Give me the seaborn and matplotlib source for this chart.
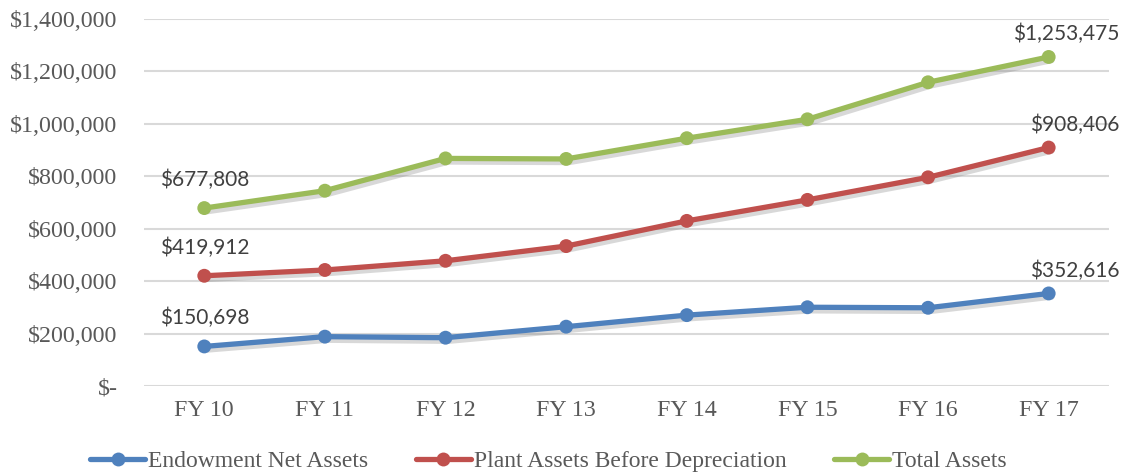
import matplotlib
matplotlib.use("Agg")
import matplotlib.pyplot as plt
import matplotlib.patheffects as pe
from matplotlib.lines import Line2D
import seaborn as sns
import pandas as pd

# Fiscal years and asset values (in thousands of dollars)
years = ["FY 10", "FY 11", "FY 12", "FY 13", "FY 14", "FY 15", "FY 16", "FY 17"]
endowment = [150698, 188000, 184000, 226000, 270000, 300000, 298000, 352616]
plant = [419912, 442000, 477000, 533000, 629000, 709000, 795000, 908406]
total = [677808, 744000, 867000, 865000, 944000, 1016000, 1157000, 1253475]
series_names = ["Endowment Net Assets", "Plant Assets Before Depreciation", "Total Assets"]
y_ticks = [0, 200000, 400000, 600000, 800000, 1000000, 1200000, 1400000]

colors = ["#4F81BD", "#C0504D", "#9BBB59"]
serif = ["Liberation Serif", "DejaVu Serif"]
label_font = ["Lato", "DejaVu Sans"]
grey_text = "#595959"
serif_size = 17.3

sns.set_theme(style="white")
plt.rcParams["font.family"] = serif

df = pd.DataFrame({
    "year": years * 3,
    "value": endowment + plant + total,
    "series": [series_names[0]] * 8 + [series_names[1]] * 8 + [series_names[2]] * 8,
})

fig = plt.figure(figsize=(11.3, 4.72), dpi=100)
ax = fig.add_axes([0.1274, 0.1822, 0.9814 - 0.1274, 0.9608 - 0.1822])

shadow = [pe.SimpleLineShadow(offset=(2.2, -2.6), shadow_color="#7f7f7f", alpha=0.3),
          pe.Normal()]

for name, col in zip(series_names, colors):
    sub = df[df["series"] == name]
    sns.lineplot(data=sub, x="year", y="value", ax=ax, color=col, linewidth=3.8,
                 marker="o", markersize=10, markeredgewidth=0, sort=False,
                 legend=False, path_effects=shadow, zorder=3)

ax.set_xlim(-0.5, len(years) - 0.5)
ax.set_ylim(0, 1400000)
ax.set_yticks(y_ticks)
ax.set_yticklabels(["$-" if v == 0 else f"${v:,.0f}" for v in y_ticks])
ax.set_xlabel("")
ax.set_ylabel("")
ax.grid(axis="y", color="#d9d9d9", linewidth=1.5)
ax.grid(axis="x", visible=False)
ax.set_axisbelow(True)
for s in ax.spines.values():
    s.set_visible(False)
ax.tick_params(axis="y", length=0, pad=19, labelsize=serif_size, labelcolor=grey_text)
ax.tick_params(axis="x", length=0, pad=10, labelsize=serif_size, labelcolor=grey_text)
for t in ax.get_yticklabels() + ax.get_xticklabels():
    t.set_fontfamily(serif)

# Value labels at the first and last fiscal year
for vals in (endowment, plant, total):
    ax.annotate(f"${vals[0]:,.0f}", (0, vals[0]), xytext=(0, 13), textcoords="offset points",
                ha="center", va="bottom", fontsize=15, color="#404040", family=label_font)
    ax.annotate(f"${vals[-1]:,.0f}", (len(years) - 1, vals[-1]), xytext=(51, 9),
                textcoords="offset points", ha="right", va="bottom", fontsize=15,
                color="#404040", family=label_font)

handles = [Line2D([0], [0], color=c, linewidth=3.8, marker="o", markersize=10,
                  markeredgewidth=0) for c in colors]
fig.legend(handles, series_names, loc="lower left", bbox_to_anchor=(90 / 1130, 0.0),
           ncol=3, frameon=False, fontsize=17, handlelength=2.35, handletextpad=0.12,
           columnspacing=2.0, borderaxespad=0.0, borderpad=0.0, labelcolor=grey_text)

fig.savefig("out.png", dpi=100)
